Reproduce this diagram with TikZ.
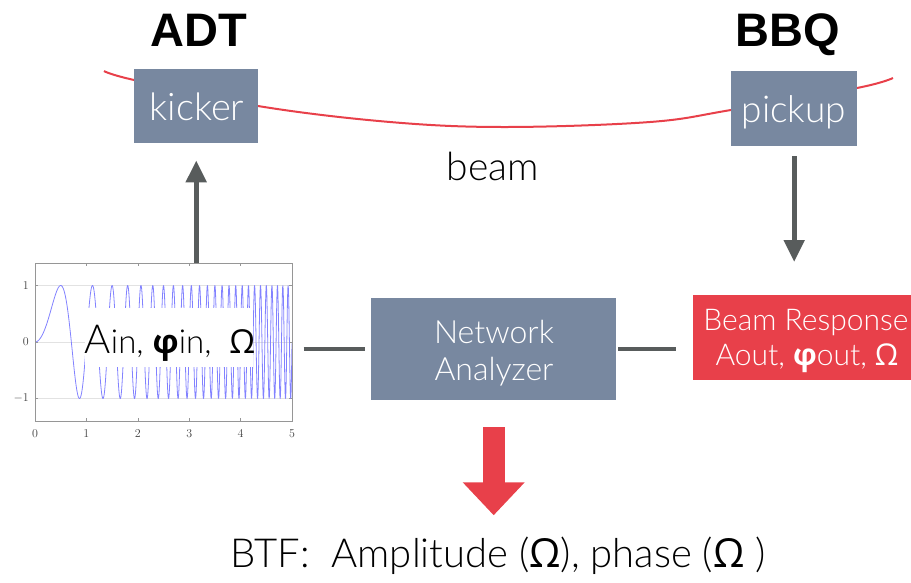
\documentclass[tikz,border=0pt]{standalone}
\usepackage{fontspec}
\newfontfamily\lato{Lato Light}
\newfontfamily\grk{Open Sans}
\newfontfamily\hel{Liberation Sans}
\usetikzlibrary{arrows.meta}
\definecolor{slate}{RGB}{120,136,160}
\definecolor{bred}{RGB}{232,64,74}
\definecolor{agray}{RGB}{88,92,92}
\definecolor{pblue}{RGB}{130,130,255}
\definecolor{axgray}{RGB}{150,150,150}
\definecolor{gridgray}{RGB}{226,226,226}
\tikzset{
  box/.style={fill=slate, inner sep=0pt, anchor=north west},
  wtxt/.style={text=white, anchor=base, inner sep=0pt},
  btxt/.style={text=black, anchor=base, inner sep=0pt},
  title/.style={anchor=base, inner sep=0pt, font=\hel\bfseries\fontsize{47}{47}\selectfont},
  grayarrow/.style={draw=agray, line width=5pt, -{Triangle[length=22pt,width=20pt]}},
  conn/.style={draw=agray, line width=4pt},
  tick/.style={axgray, line width=0.6pt},
  ticklab/.style={inner sep=0pt, font=\fontsize{13}{13}\selectfont, text=black!75},
}
\begin{document}
\begin{tikzpicture}[x=1pt,y=-1pt]
\useasboundingbox (0,0) rectangle (911,582);

% beam
\draw[bred, line width=2pt] plot[smooth, tension=0.6] coordinates
  {(104,71) (134,80) (258,106) (390,122) (505,127) (650,122) (731,110) (857,88) (893,78)};

% titles
\node[title] (adt) at (199,46) {ADT};
\node[title] (bbq) at (788,46) {BBQ};

% kicker / pickup
\node[box, minimum width=124pt, minimum height=74pt] (kicker) at (134,69) {};
\node[wtxt, font=\lato\fontsize{38}{38}\selectfont] (kickertxt) at (197,120) {kicker};
\node[box, minimum width=126pt, minimum height=75pt] (pickup) at (731,71) {};
\node[wtxt, font=\lato\fontsize{37}{37}\selectfont] (pickuptxt) at (794,122) {pickup};

\node[btxt, font=\lato\fontsize{39}{39}\selectfont] (beam) at (493,180) {beam};

% plot
\node[draw=axgray, line width=0.6pt, minimum width=257pt, minimum height=158pt, inner sep=0pt, anchor=north west] (plot) at (35,263) {};
\foreach \v/\yy in {1/285.5,0/342,-1/398.5}{
  \draw[gridgray, line width=0.6pt] (35,\yy) -- (292,\yy);
  \draw[tick] (35,\yy) -- (38,\yy);
  \draw[tick] (292,\yy) -- (289,\yy);
}
\foreach \i in {1,...,4}{
  \draw[tick] ({35+51.4*\i},421) -- ({35+51.4*\i},418);
  \draw[tick] ({35+51.4*\i},263) -- ({35+51.4*\i},266);
}
\foreach \i in {0,...,5}{
  \node[ticklab, anchor=north] (xl\i) at ({35+51.4*\i},430) {$\i$};
}
\node[ticklab, anchor=east] (yl1) at (29,285.5) {$1$};
\node[ticklab, anchor=east] (yl0) at (29,342) {$0$};
\node[ticklab, anchor=east] (ylm) at (29,398.5) {$-1$};
\begin{scope}
\clip (35,263) rectangle (292,421);
\draw[pblue, line width=0.8pt, line join=round] plot[domain=0:5, samples=1500] ({35+51.4*\x}, {342-56.5*sin(360*\x*\x)});
\end{scope}
\draw[axgray, line width=0.6pt] (plot.north west) rectangle (plot.south east);
\node[fill=white, minimum width=168pt, minimum height=59pt, inner sep=0pt, anchor=north west] (ainbox) at (85,308) {};
\node[btxt, font=\lato\fontsize{33}{33}\selectfont] (aintxt) at (170,353) {{\fontsize{40}{40}\selectfont A}in, {\grk\bfseries φ}in,\ \ {\grk Ω}};

% network analyzer
\node[box, minimum width=245pt, minimum height=102pt] (na) at (371,298) {};
\node[wtxt, font=\lato\fontsize{32}{32}\selectfont] (natxt1) at (494,343) {Network};
\node[wtxt, font=\lato\fontsize{32}{32}\selectfont] (natxt2) at (494,380) {Analyzer};

% beam response
\node[box, fill=bred, minimum width=219pt, minimum height=85pt] (resp) at (693,295) {};
\node[wtxt, font=\lato\fontsize{30}{30}\selectfont] (resptxt1) at (806,330) {Beam Response};
\node[wtxt, font=\lato\fontsize{30}{30}\selectfont] (resptxt2) at (807,365) {Aout, {\grk\bfseries φ}out, {\grk Ω}};

% connectors
\draw[grayarrow, shorten >=17pt] (plot.north -| kicker.south) -- (kicker.south);
\draw[grayarrow, shorten <=10pt, shorten >=33pt] (pickup.south) -- (pickup.south |- resp.north);
\draw[conn, shorten <=11pt, shorten >=6pt] (na.west -| plot.east) -- (na.west);
\draw[conn, shorten <=2pt, shorten >=17pt] (na.east) -- (na.east -| resp.west);

% result
\node[btxt, font=\lato\fontsize{40}{40}\selectfont] (btf) at (498,567) {BTF:\ \ Amplitude ({\grk Ω}), phase ({\grk Ω}\ )};
\draw[bred, line width=22pt, -{Triangle[length=33pt,width=60pt]}, shorten <=27pt, shorten >=21pt] (na.south) -- (na.south |- btf.north);
\end{tikzpicture}
\end{document}
